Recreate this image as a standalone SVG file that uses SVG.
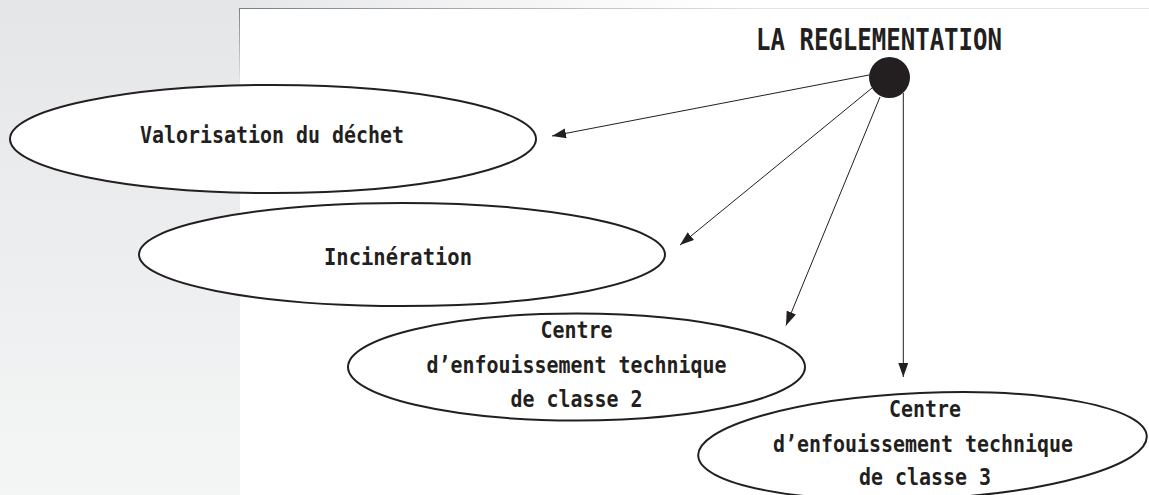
<svg xmlns="http://www.w3.org/2000/svg" width="1149" height="495" viewBox="0 0 1149 495">
  <defs>
    <linearGradient id="panel" x1="0" y1="0" x2="0" y2="1">
      <stop offset="0" stop-color="#e5e6e8"/>
      <stop offset="1" stop-color="#f4f5f5"/>
    </linearGradient>
    <linearGradient id="topstrip" x1="240" y1="0" x2="720" y2="0" gradientUnits="userSpaceOnUse">
      <stop offset="0" stop-color="#e6e7e9"/>
      <stop offset="1" stop-color="#ffffff"/>
    </linearGradient>
    <linearGradient id="topline" x1="240" y1="0" x2="760" y2="0" gradientUnits="userSpaceOnUse">
      <stop offset="0" stop-color="#7d7e80"/>
      <stop offset="1" stop-color="#e3e3e3"/>
    </linearGradient>
    <linearGradient id="leftline" x1="0" y1="8" x2="0" y2="90" gradientUnits="userSpaceOnUse">
      <stop offset="0" stop-color="#7d7e80"/>
      <stop offset="1" stop-color="#f0f0f0"/>
    </linearGradient>
    <marker id="arrow" viewBox="0 0 14 10" refX="14" refY="5" markerWidth="14" markerHeight="10" markerUnits="userSpaceOnUse" orient="auto">
      <path d="M0,0 L14,5 L0,10 Z" fill="#231f20"/>
    </marker>
    <style>
      .node { fill: #ffffff; stroke: #231f20; stroke-width: 2; }
      .lbl { font-family: "DejaVu Sans Mono", "Liberation Mono", monospace; font-weight: bold; font-size: 23px; fill: #231f20; }
      .title { font-family: "DejaVu Sans Mono", "Liberation Mono", monospace; font-weight: bold; font-size: 31px; fill: #231f20; }
      .edge { stroke: #231f20; stroke-width: 1; fill: none; marker-end: url(#arrow); }
    </style>
  </defs>

  <!-- background -->
  <rect x="0" y="0" width="1149" height="495" fill="#ffffff"/>
  <rect x="240" y="0" width="909" height="8" fill="url(#topstrip)"/>
  <rect x="0" y="0" width="240" height="495" fill="url(#panel)"/>
  <line x1="239.5" y1="8.5" x2="1149" y2="8.5" stroke="url(#topline)" stroke-width="1"/>
  <line x1="239.5" y1="8" x2="239.5" y2="90" stroke="url(#leftline)" stroke-width="1"/>

  <!-- root -->
  <g id="reglementation">
    <text class="title" x="756" y="50" textLength="246" lengthAdjust="spacingAndGlyphs">LA REGLEMENTATION</text>
    <circle cx="889.5" cy="77.5" r="20.5" fill="#231f20"/>
  </g>

  <!-- connectors -->
  <g id="connectors">
    <line class="edge" x1="869" y1="75" x2="552" y2="136"/>
    <line class="edge" x1="872" y1="88" x2="680" y2="245"/>
    <line class="edge" x1="880" y1="97" x2="786" y2="325.5"/>
    <line class="edge" x1="903.3" y1="93" x2="903.3" y2="377"/>
  </g>

  <g id="valorisation">
    <ellipse class="node" cx="273" cy="139" rx="263" ry="54"/>
    <text class="lbl" x="140" y="143" textLength="264" lengthAdjust="spacingAndGlyphs">Valorisation du déchet</text>
  </g>

  <g id="incineration">
    <ellipse class="node" cx="402" cy="254.5" rx="263" ry="51.5"/>
    <text class="lbl" x="398" y="265" text-anchor="middle" textLength="148" lengthAdjust="spacingAndGlyphs">Incinération</text>
  </g>

  <g id="cet-classe-2">
    <ellipse class="node" cx="576.5" cy="367" rx="228.5" ry="53.5"/>
    <text class="lbl" x="576.5" y="338" text-anchor="middle" textLength="72" lengthAdjust="spacingAndGlyphs">Centre</text>
    <text class="lbl" x="576.5" y="373" text-anchor="middle" textLength="300" lengthAdjust="spacingAndGlyphs">d’enfouissement technique</text>
    <text class="lbl" x="576.5" y="407" text-anchor="middle" textLength="132" lengthAdjust="spacingAndGlyphs">de classe 2</text>
  </g>

  <g id="cet-classe-3">
    <ellipse class="node" cx="922.5" cy="446" rx="224.5" ry="53" transform="rotate(-2.5 922.5 446)"/>
    <text class="lbl" x="925" y="416.7" text-anchor="middle" textLength="72" lengthAdjust="spacingAndGlyphs">Centre</text>
    <text class="lbl" x="923" y="451.7" text-anchor="middle" textLength="300" lengthAdjust="spacingAndGlyphs">d’enfouissement technique</text>
    <text class="lbl" x="925" y="485" text-anchor="middle" textLength="132" lengthAdjust="spacingAndGlyphs">de classe 3</text>
  </g>
</svg>
